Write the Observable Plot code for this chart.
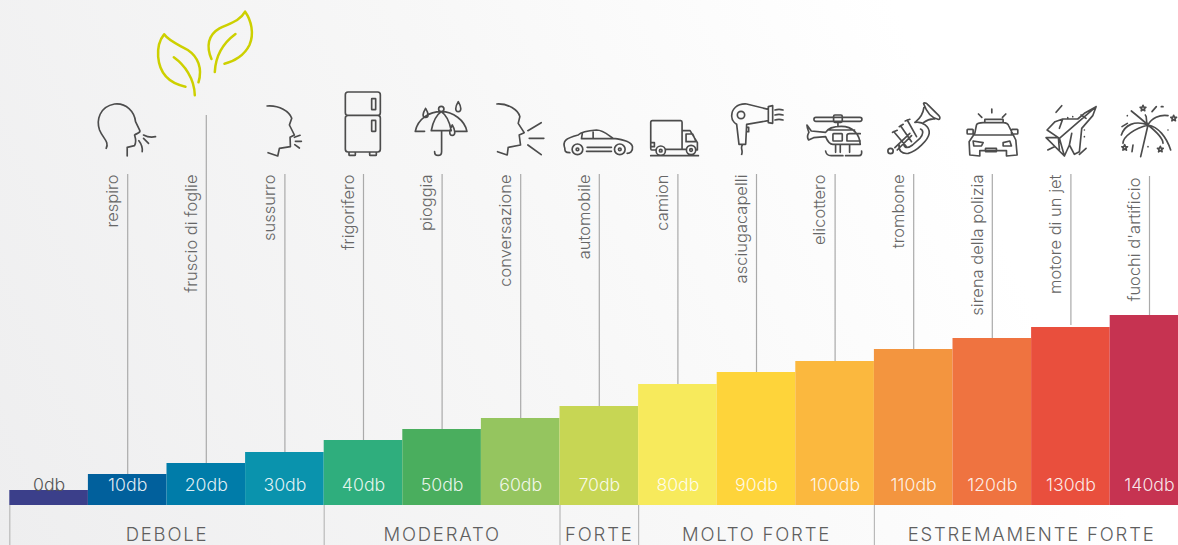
<!DOCTYPE html>
<html>
<head>
<meta charset="utf-8">
<script src="https://cdn.jsdelivr.net/npm/d3@7"></script>
<script src="https://cdn.jsdelivr.net/npm/@observablehq/plot@0.6"></script>
<style>
html,body{margin:0;padding:0;width:1178px;height:545px;overflow:hidden;background:#f8f8f8}
</style>
</head>
<body>
<div id="chart"></div>
<script>
// ---- data ----
const decibels = [0,10,20,30,40,50,60,70,80,90,100,110,120,130,140];
const barHeights = [15,31,42,53,65,76,87,99,121,133,144,156,167,178,190];
const barColors = ["#3b3f8a","#01609c","#007ca9","#0a93ad","#2fae7d","#4aae5e","#95c55f","#c7d654","#f7ea5c","#fed43a","#fbb83e","#f3953f","#ef7340","#e94f3d","#c63351"];
const soundNames = [null,"respiro","fruscio di foglie","sussurro","frigorifero","pioggia","conversazione","automobile","camion","asciugacapelli","elicottero","trombone","sirena della polizia","motore di un jet","fuochi d'artificio"];
const leaderTops = [null,331,390,331,331,331,331,331,331,331,331,331,331,331,329];
const leaderBottoms = [null,31,42,53,65,76,87,99,121,133,144,156,167,180,188];
const labelLevels = [null,331,331,331,331,331,331,331,331,331,331,331,331,331,328];
const bandNames = ["DEBOLE","MODERATO","FORTE","MOLTO FORTE","ESTREMAMENTE FORTE"];
const bandStarts = [0,40,70,80,110];
const bandEnds = [40,70,80,110,150];

const rows = decibels.map((db,i)=>({db,h:barHeights[i],color:barColors[i],name:soundNames[i],top:leaderTops[i],bottom:leaderBottoms[i],labelAt:labelLevels[i]}));
const sounds = rows.filter(d=>d.name);
const bands = bandNames.map((name,i)=>({name,start:bandStarts[i],end:bandEnds[i]}));

// ---- pictograms: outlines in a 3× sheet, anchored on each leader line ----
const star=(x,y)=>{const p=[];for(let i=0;i<10;i++){const r=i%2?4:9,a=-Math.PI/2+i*Math.PI/5;p.push((x+r*Math.cos(a)).toFixed(1)+","+(y+r*Math.sin(a)).toFixed(1));}return "M"+p.join("L")+"Z";};
const circ=(x,y,r)=>`M${x-r},${y}a${r},${r} 0 1,0 ${2*r},0a${r},${r} 0 1,0 ${-2*r},0Z`;
const box=(x1,y1,x2,y2,r=3)=>`M${x1+r},${y1}H${x2-r}Q${x2},${y1} ${x2},${y1+r}V${y2-r}Q${x2},${y2} ${x2-r},${y2}H${x1+r}Q${x1},${y2} ${x1},${y2-r}V${y1+r}Q${x1},${y1} ${x1+r},${y1}Z`;
const drop=(x,y1,y2)=>`M${x},${y1}C${x-9},${y1+15} ${x-11},${y2} ${x},${y2}C${x+11},${y2} ${x+9},${y1+15} ${x},${y1}Z`;

const icons = [
 {db:10,ox:143,oy:390,d:"M80,445C90,425 70,415 60,390C50,360 60,320 105,312C140,308 165,335 168,365L181,392C183,400 170,400 165,405C168,415 172,425 165,437L143,442V468M192,405C205,412 215,413 228,410M178,422C188,435 190,442 188,455M192,415L207,430"},
 {db:20,ox:379,oy:390,color:"#cdd000",sw:7.5,d:"M318,260C270,250 240,220 236,170C234,140 244,115 254,103C270,125 300,135 325,150C355,170 370,205 357,247M283,172C315,195 345,235 346,286M396,177C380,140 385,105 420,85C450,70 480,65 497,35C515,60 525,100 510,135C495,165 465,185 435,191M406,216C408,170 430,130 468,102"},
 {db:30,ox:615,oy:390,d:"M563,318C600,315 630,335 637,355L630,375L645,405L632,412L633,440L600,445L595,468L566,458M645,412L662,406M648,424H666M646,434L660,444"},
 {db:40,ox:850,oy:390,d:box(797,276,902,346,8)+box(797,346,902,456,8)+box(876,296,888,329,1)+box(876,361,888,394,1)+box(808,456,827,466,2)+box(870,456,890,466,2)},
 {db:50,ox:126,oy:120,d:"M47,124C55,85 90,65 125,65C160,65 195,90 202,124H168M47,124H75M95,122C100,95 110,75 125,65C140,75 150,95 155,122M98,122H148M126,122V185C126,200 105,200 105,185"+circ(125,57,8)+drop(78,55,82)+drop(176,35,65)+drop(158,105,136)},
 {db:60,ox:361,oy:120,d:"M291,42C325,40 355,60 360,80L355,100L373,128L358,135L362,165L325,172L322,195L293,185M384,122L424,98M388,145H432M384,165L424,194"},
 {db:70,ox:597,oy:120,d:"M510,188C495,188 495,182 495,175C488,155 495,145 535,135C545,125 560,122 590,120C610,120 625,135 640,145C670,148 695,155 698,170C700,185 690,190 682,190M562,172H635M560,184H635M548,128L545,146H640M580,125V146"+circ(533,178,16)+circ(660,178,16)+circ(533,178,4)+circ(660,178,4)},
 {db:80,ox:832,oy:120,d:"M766,180H755Q752,180 752,175V97Q752,92 757,92H842Q846,92 846,97V178H798M846,122H870L892,158V180H889M858,178H846M858,132H878L888,155H858ZM752,197H895M755,158H763V170H755"+circ(782,182,14)+circ(873,180,14)+circ(782,182,4)+circ(873,180,4)},
 {db:90,ox:1068,oy:120,d:"M1040,42C1010,40 995,58 995,78C995,95 1010,103 1010,103L1017,163H1037L1040,103L1105,92V58L1040,42M1105,50L1118,47V100L1105,98ZM1125,60Q1137,56 1149,60M1125,75Q1137,71 1149,75M1125,90Q1137,86 1149,90M1027,165C1020,175 1030,180 1025,193M1040,112H1046V125H1040"+circ(1023,75,11)},
 {db:100,ox:105,oy:105,d:box(43,67,187,79,6)+box(102,60,128,82,4)+"M115,82V94M22,90L35,108L78,112C85,100 105,94 125,94C160,94 180,118 182,148H100C88,148 82,135 78,125L42,128L27,135C20,125 25,118 28,112C25,105 22,98 22,90ZM88,105H165M78,168Q80,182 95,182H130M138,182H178Q188,182 186,168M108,148V172M122,148V172M150,148V172"+box(100,116,128,138,2)+"M182,116H150Q142,116 142,122V138H182"},
 {db:110,ox:340,oy:105,d:"M372,28C368,22 378,22 383,28L417,62C423,68 420,76 412,72C395,68 380,50 372,28ZM372,38C370,55 360,70 348,80M405,72C385,70 375,80 368,85M345,82C368,78 390,95 388,115C385,135 350,170 325,175C305,178 295,165 298,150M362,102C372,105 370,120 360,130L338,150C325,160 315,160 312,150M282,110L320,155M302,92L335,140M322,75L350,125M278,112L292,106M298,95L310,88M316,78L330,73M285,158L330,115M292,165L335,122"+circ(272,168,8)},
 {db:120,ox:606,oy:120,d:"M555,130L560,105C562,100 570,98 580,98H640C650,98 655,102 657,108L668,130L678,150L682,195L650,198V182H570V198L540,195L538,155ZM555,135H670M550,153L580,158L575,168H552ZM660,153L640,158V168H665ZM606,57V68M566,72L576,82M648,72L638,82"+box(585,88,640,98,1)+box(532,118,550,132,2)+box(665,118,684,132,2)+box(587,175,620,185,1)},
 {db:130,ox:108,oy:105,d:"M185,35L150,55L130,72H85L62,80L38,105L72,128L35,128L90,183L105,150L120,178L135,170L142,100L175,62ZM185,35L75,130M72,128L75,165M75,130L90,183M85,72L75,100M105,150L112,115M140,60L155,70M65,52L82,32M135,178L155,160M40,165L60,155M100,68V68M115,65V65M150,105V105M150,125V125"},
 {db:140,ox:343,oy:105,d:"M340,90L318,185M340,90C320,72 305,60 290,48M340,90C350,70 375,58 400,62M340,90C300,75 270,90 260,120M340,90C300,100 265,125 265,145M340,90C370,95 395,125 408,165M340,90C365,110 385,130 385,145M340,90C330,78 340,68 332,60M352,50L365,35M380,35H385M262,95L278,85M295,150L292,170M278,62V62M400,105V105M340,155V155"+star(325,40)+star(417,70)+star(270,158)+star(377,163)}
];

// custom mark: positions each pictogram through Plot's scales
const iconLevel = 375;
const iconMark = (index, scales) => {
  const g = d3.create("svg:g").attr("fill","none").attr("stroke-linecap","round").attr("stroke-linejoin","round");
  for (const ic of icons) {
    g.append("path")
     .attr("d", ic.d)
     .attr("stroke", ic.color || "#4c4c4c")
     .attr("stroke-width", ic.sw || 5)
     .attr("transform", `translate(${scales.x(ic.db+5)},${scales.y(iconLevel)}) scale(${1/3}) translate(${-ic.ox},${-ic.oy})`);
  }
  return g.node();
};

const font = "Inter, Roboto, sans-serif";

const chart = Plot.plot({
  width: 1178, height: 545,
  marginTop: 0, marginRight: 0, marginBottom: 0, marginLeft: 0,
  style: {background: "linear-gradient(65deg,#eeeeef 0%,#f7f7f7 45%,#ffffff 80%)", fontFamily: font},
  x: {type: "linear", domain: [0,150], range: [9.3,1188.3], axis: null},
  y: {type: "linear", domain: [-40,505], range: [545,0], axis: null},
  marks: [
    // band separators
    Plot.ruleX(bands, {x: "start", y1: 0, y2: -40, stroke: "#b9b9b9", strokeWidth: 1.2}),
    Plot.text(bands, {x: d=>(d.start+d.end)/2, y: -30, text: "name", fill: "#5f5f5f", fontSize: 18.5, fontWeight: 300}),
    // leaders
    Plot.ruleX(sounds, {x: d=>d.db+5, y1: "bottom", y2: "top", stroke: "#aaaaaa", strokeWidth: 1.2}),
    // bars
    Plot.rectY(rows, {x1: "db", x2: d=>d.db+10, y1: 0, y2: "h", fill: "color", inset: 0, clip: true}),
    // bar labels
    Plot.text(rows, {x: d=>d.db+5, y: 20, text: d=>d.db+"db", fill: d=>d.db===0?"#555555":"#ffffff", fillOpacity: d=>d.db===0?1:0.88, fontSize: 17.7, fontWeight: 300}),
    // sound names
    Plot.text(sounds, {x: d=>d.db+5, y: "labelAt", text: "name", rotate: -90, textAnchor: "end", dx: -15, dy: 0, fill: "#666666", fontSize: 16.5, fontWeight: 300}),
    iconMark
  ]
});
d3.select(chart).selectAll("text").filter(function(){return bandNames.includes(this.textContent);}).style("letter-spacing","1.8px");
document.getElementById("chart").appendChild(chart);
</script>
</body>
</html>
